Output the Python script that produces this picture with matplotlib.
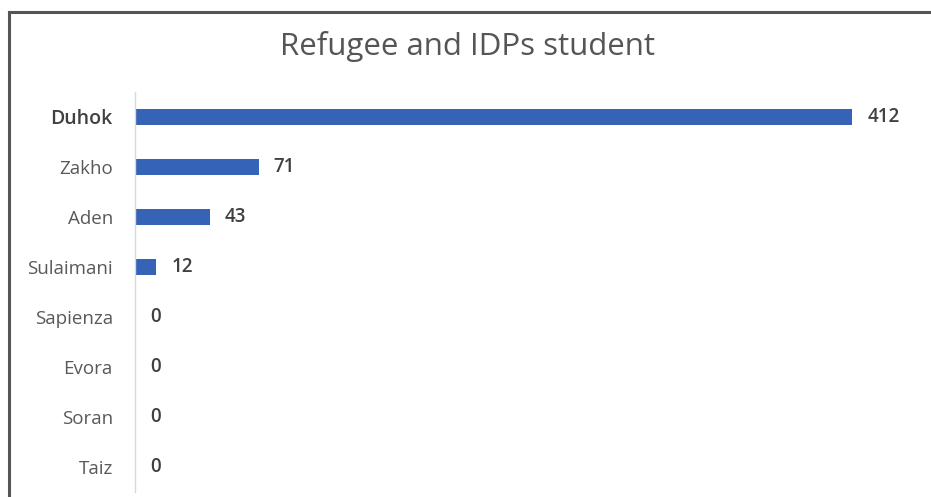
import matplotlib.pyplot as plt
from matplotlib.lines import Line2D

# students per university
universities = ["Duhok", "Zakho", "Aden", "Sulaimani", "Sapienza", "Evora", "Soran", "Taiz"]
students = [412, 71, 43, 12, 0, 0, 0, 0]

W, H = 931, 497
fig = plt.figure(figsize=(W / 100, H / 100), dpi=100)
fig.patch.set_facecolor("white")

# frame around the chart (left and top edges visible)
fig.add_artist(Line2D([9 / W, 9 / W], [0, 1 - 12 / H], transform=fig.transFigure,
                      color="#555555", linewidth=2.2))
fig.add_artist(Line2D([9 / W, 1], [1 - 12 / H, 1 - 12 / H], transform=fig.transFigure,
                      color="#555555", linewidth=2.2))

# plot area in pixels: x 135..918, y 92..492
x0, x1 = 135, 918
y0, y1 = 92, 492
ax = fig.add_axes([x0 / W, 1 - y1 / H, (x1 - x0) / W, (y1 - y0) / H])
xmax = (x1 - x0) / 1.74
ax.set_xlim(0, xmax)

pos = list(range(len(universities)))
ax.barh(pos, students, height=0.32, color="#3563B5")
ax.set_ylim(len(universities) - 0.5, -0.5)

ax.set_yticks(pos)
ax.set_yticklabels(universities, family="Open Sans", fontsize=13.5, color="#595959",
                   fontweight="medium")
ax.get_yticklabels()[0].set_fontweight("semibold")
ax.get_yticklabels()[0].set_fontsize(14)
ax.get_yticklabels()[0].set_color("#404040")
ax.tick_params(axis="y", length=0, pad=16)
ax.set_xticks([])

for s in ["top", "right", "bottom"]:
    ax.spines[s].set_visible(False)
ax.spines["left"].set_color("#d9d9d9")
ax.spines["left"].set_linewidth(1.0)

for p, v in zip(pos, students):
    ax.annotate(str(v), (v, p), xytext=(11, 0), textcoords="offset points",
                va="center", ha="left", family="Open Sans", fontsize=13.5,
                fontweight="semibold", color="#404040")

fig.text(467 / W, 1 - 47 / H, "Refugee and IDPs student", ha="center", va="center",
         family="Open Sans", fontsize=22.5, color="#555555")

fig.savefig("out.png", dpi=100)
